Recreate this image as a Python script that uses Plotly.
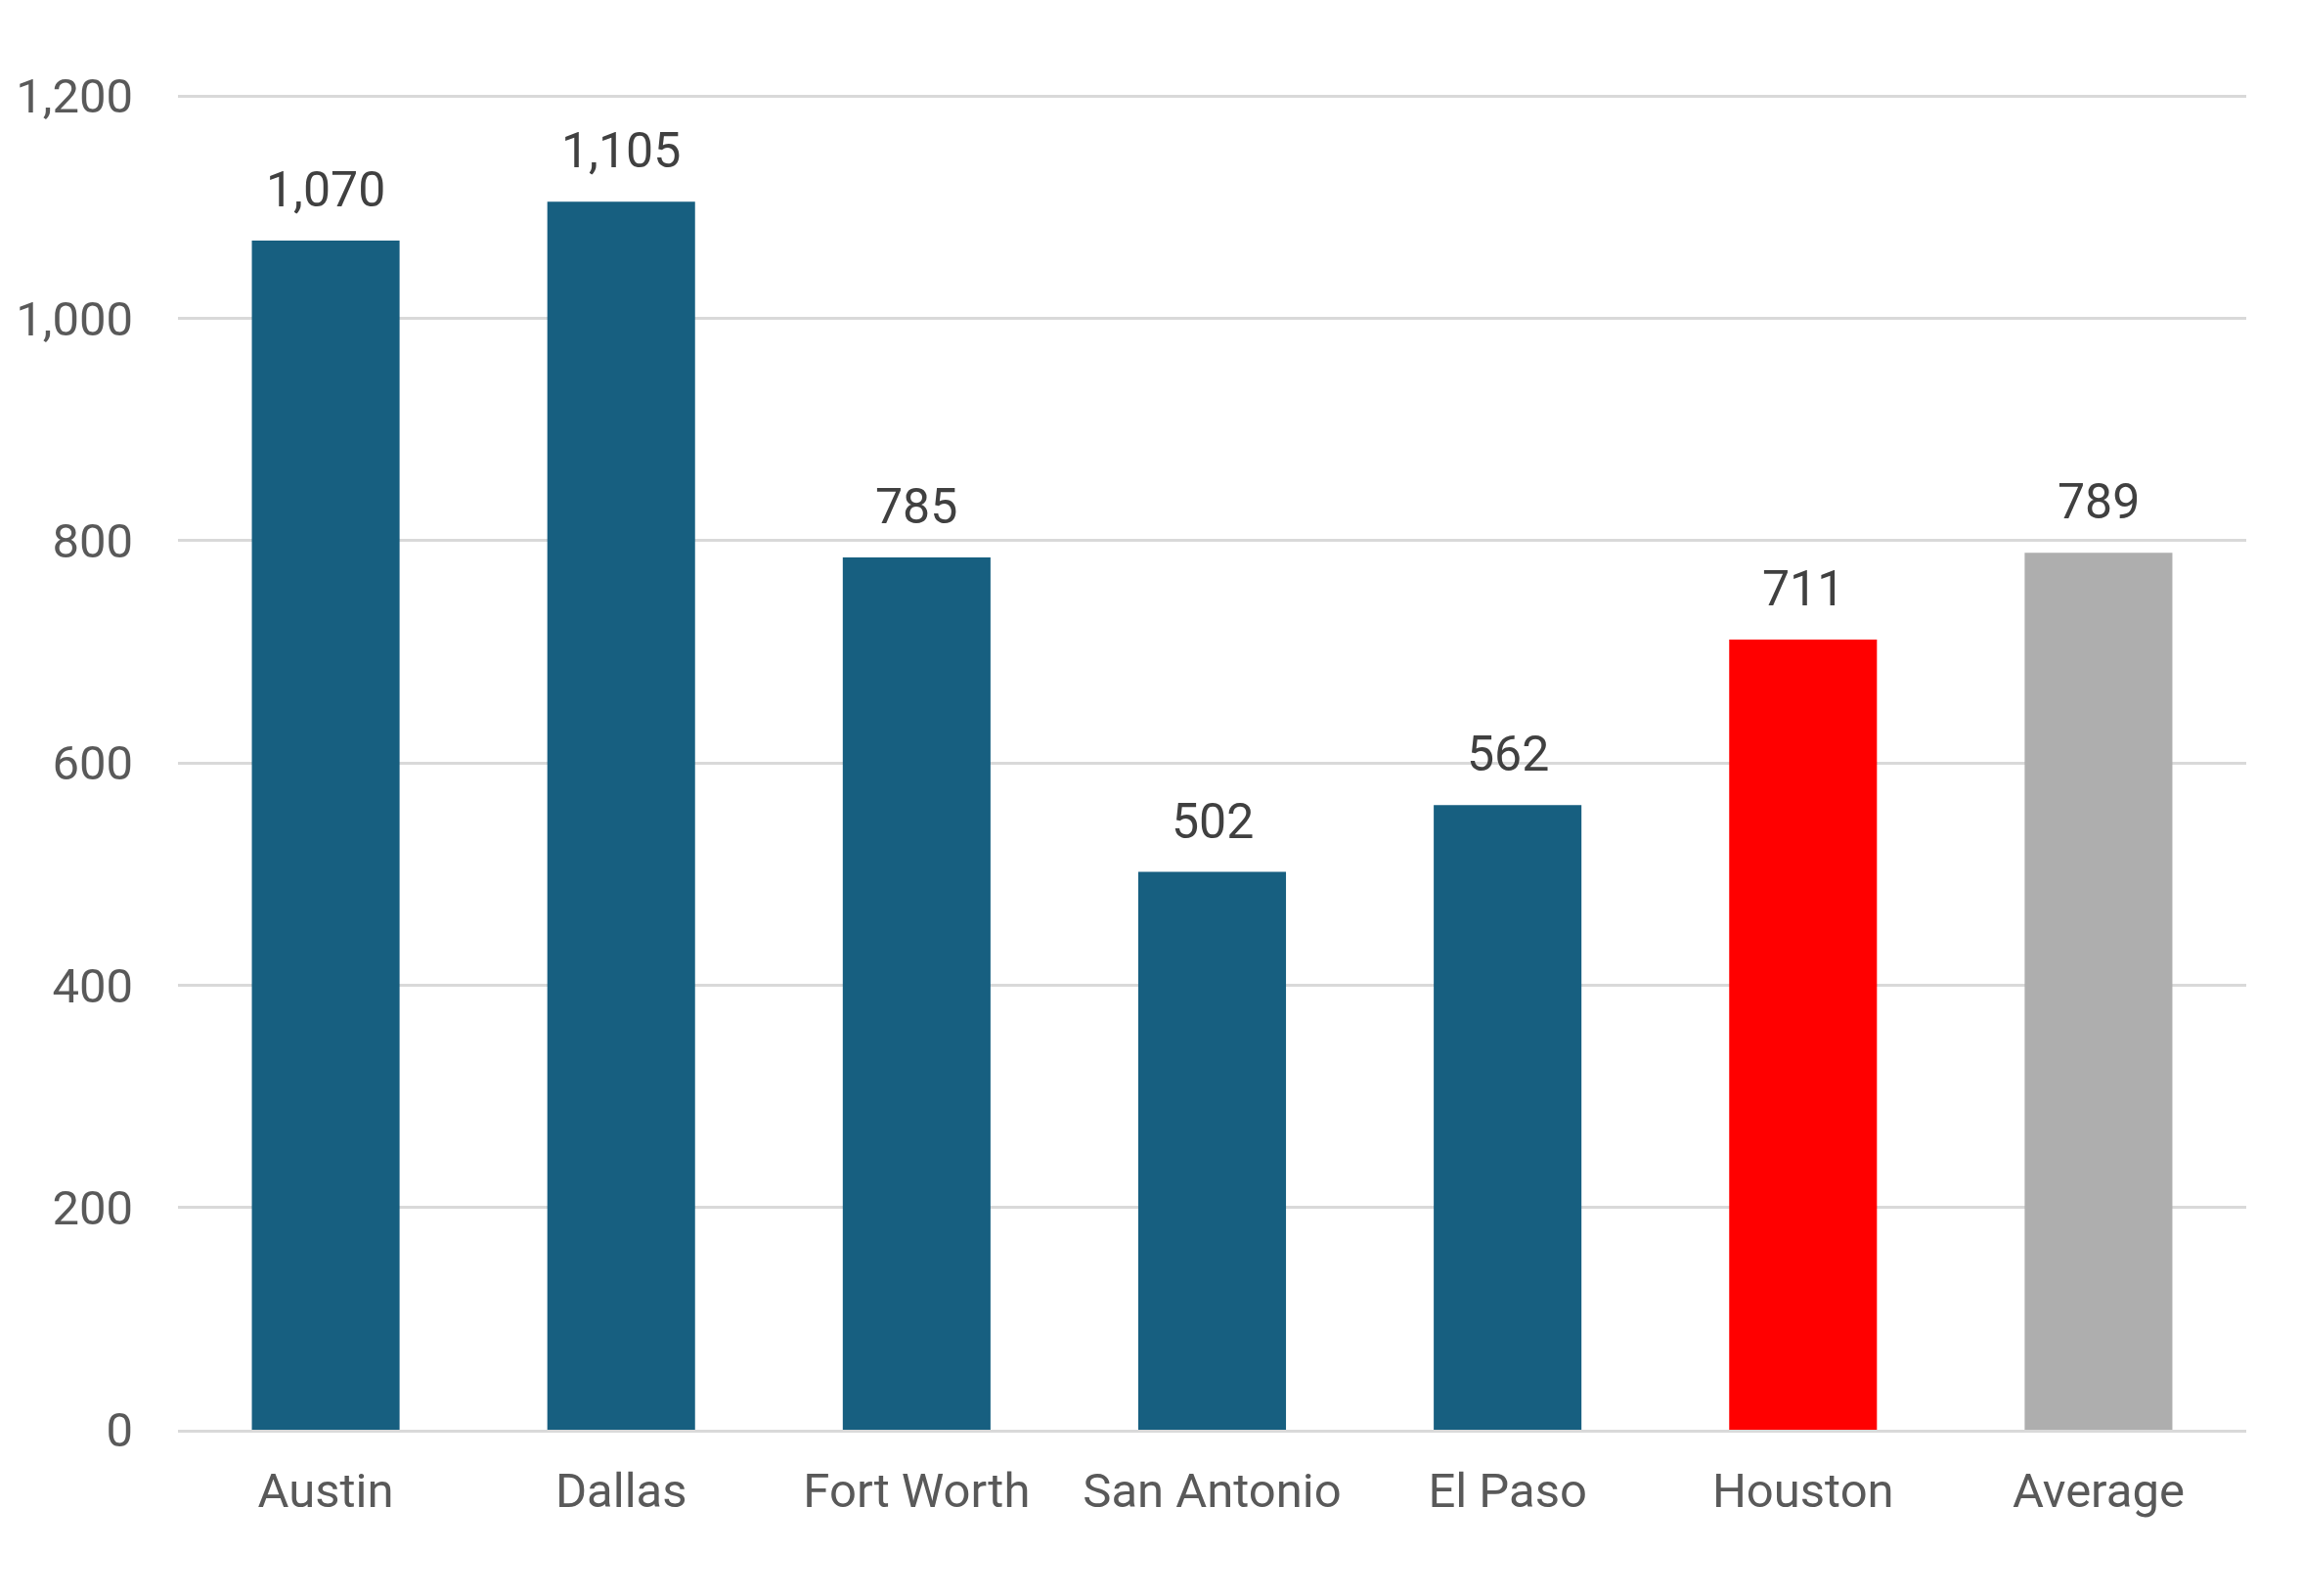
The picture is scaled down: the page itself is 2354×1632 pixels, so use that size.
import plotly.graph_objects as go

categories = ["Austin", "Dallas", "Fort Worth", "San Antonio", "El Paso", "Houston", "Average"]
values = [1070, 1105, 785, 502, 562, 711, 789]
bar_colors = ["#175F80", "#175F80", "#175F80", "#175F80", "#175F80", "#FF0000", "#AEAEAE"]
y_ticks = [0, 200, 400, 600, 800, 1000, 1200]

fig = go.Figure()
fig.add_trace(go.Bar(
    x=categories, y=values,
    marker=dict(color=bar_colors, line=dict(width=0)),
    hoverinfo="skip",
))

for c, v in zip(categories, values):
    fig.add_annotation(
        x=c, y=v, text=f"{v:,}", showarrow=False,
        yanchor="bottom", yshift=21,
        font=dict(family="Roboto", size=50, color="#404040"),
    )

fig.update_layout(
    width=2354, height=1632,
    margin=dict(l=182, r=57, t=96, b=170, autoexpand=False),
    paper_bgcolor="white", plot_bgcolor="white",
    bargap=0.5, showlegend=False,
    font=dict(family="Roboto", size=49, color="#595959"),
)
fig.update_yaxes(
    range=[0, 1202], tickvals=y_ticks, ticktext=[f"{t:,}" for t in y_ticks],
    showgrid=True, gridcolor="#D9D9D9", gridwidth=3,
    zeroline=False, showline=False, ticks="",
    ticklabelstandoff=45,
    tickfont=dict(family="Roboto", size=49, color="#595959"),
)
fig.update_xaxes(
    showline=True, linecolor="#D9D9D9", linewidth=3,
    ticks="", ticklabelstandoff=17,
    tickfont=dict(family="Roboto", size=49, color="#595959"),
)

fig.write_html("out.html")
